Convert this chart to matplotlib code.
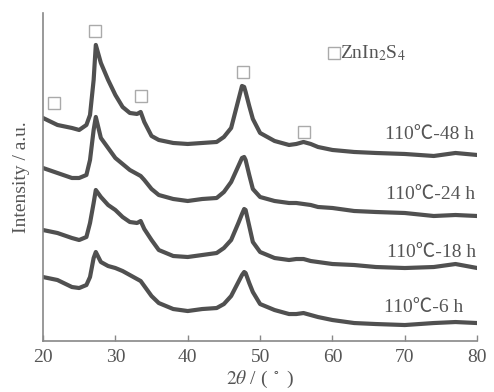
import matplotlib
matplotlib.use('Agg')
import matplotlib.pyplot as plt

plt.rcParams['font.family'] = ['Liberation Serif', 'DejaVu Serif']
plt.rcParams['mathtext.fontset'] = 'stix'

two_theta = [20, 22, 24, 25, 26, 26.5, 27, 27.3, 28, 29, 30, 31, 32, 33, 33.5, 34, 35, 36,
             38, 40, 42, 44, 45, 46, 47, 47.5, 47.8, 48, 48.5, 49, 50, 52, 54, 55, 56, 57, 58, 60,
             63, 66, 70, 74, 77, 80]

i_48h = [223, 216, 213, 211, 216, 226, 261, 296, 278, 261, 246, 234, 228, 227, 229, 219, 205, 201,
         198, 197, 198, 199, 204, 213, 241, 255, 254, 249, 235, 222, 208, 200, 196, 197, 199, 197, 194, 191,
         189, 188, 187, 185, 188, 186]
i_24h = [173, 168, 163, 163, 166, 181, 211, 224, 203, 193, 183, 177, 171, 167, 165, 161, 152, 146,
         142, 140, 142, 143, 149, 159, 175, 183, 184, 181, 166, 152, 144, 140, 138, 138, 137, 136, 134, 133,
         130, 129, 128, 125, 126, 125]
i_18h = [111, 108, 103, 101, 104, 118, 138, 151, 144, 136, 131, 124, 119, 118, 120, 112, 101, 91,
         85, 84, 86, 88, 93, 101, 118, 127, 132, 131, 115, 99, 89, 83, 81, 82, 82, 80, 79, 77,
         76, 74, 73, 74, 77, 73]
i_6h = [64, 61, 54, 53, 56, 64, 83, 89, 79, 75, 73, 70, 66, 62, 60, 55, 45, 38,
        32, 30, 32, 33, 37, 45, 59, 66, 69, 68, 58, 49, 37, 31, 27, 27, 28, 26, 24, 21,
        18, 17, 16, 18, 19, 18]

series = [i_48h, i_24h, i_18h, i_6h]
labels = ['110℃-48 h', '110℃-24 h', '110℃-18 h', '110℃-6 h']
label_x = [79.5, 79.7, 79.8, 78.1]
label_y = [206, 146, 89, 34]

# ZnIn2S4 reflections marked with open squares
peak_x = [21.5, 27.2, 33.6, 47.7, 56.1]
peak_y = [238, 310, 245, 269, 209]

fig = plt.figure(figsize=(4.94, 3.92), dpi=100)
ax = fig.add_axes([0.087, 0.130, 0.879, 0.837])

for y in series:
    ax.plot(two_theta, y, color='#505050', lw=3.0, solid_joinstyle='round')

for x, y, lab in zip(label_x, label_y, labels):
    ax.text(x, y, lab, ha='right', va='center', fontsize=14, color='#555555',
            family=['Liberation Serif', 'Noto Sans CJK SC'])

ax.plot(peak_x, peak_y, ls='none', marker='s', ms=9, mfc='white', mec='#aaaaaa', mew=1)
ax.plot([60.2], [288], ls='none', marker='s', ms=9, mfc='white', mec='#aaaaaa', mew=1)
ax.text(61.1, 288, 'ZnIn$_2$S$_4$', ha='left', va='center', fontsize=14, color='#555555')

ax.set_xlim(20, 80)
ax.set_ylim(0, 328)
ax.set_xticks(range(20, 81, 10))
ax.set_yticks([])
ax.tick_params(axis='x', direction='in', length=4, width=1, color='#888888',
               labelcolor='#555555', labelsize=14, pad=6)
for s in ['top', 'right']:
    ax.spines[s].set_visible(False)
for s in ['left', 'bottom']:
    ax.spines[s].set_color('#888888')
    ax.spines[s].set_linewidth(1.2)

ax.set_xlabel(r'$2\theta$ / ( $^\circ$ )', fontsize=14, color='#555555', labelpad=2)
ax.set_ylabel('Intensity / a.u.', fontsize=14, color='#555555', labelpad=9)

fig.savefig('out.png', dpi=100)
